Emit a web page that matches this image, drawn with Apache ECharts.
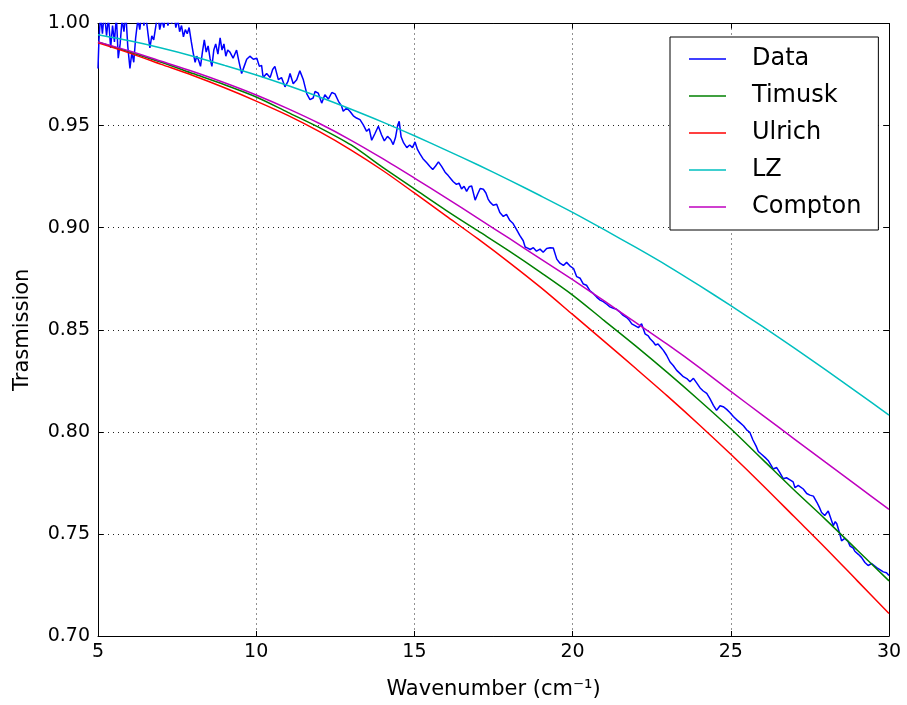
<!DOCTYPE html>
<html>
<head>
<meta charset="utf-8">
<script src="https://cdn.jsdelivr.net/npm/echarts@6/dist/echarts.min.js"></script>
<style>
  html, body { margin: 0; padding: 0; background: #fff; }
  #chart { width: 907px; height: 705px; }
</style>
</head>
<body>
<div id="chart"></div>
<script>
// Measured transmission spectrum (wavenumber in cm^-1, transmission)
var dataWavenumber = [
  5.00, 5.03, 5.08, 5.14, 5.20, 5.27, 5.33, 5.40, 5.46, 5.52, 5.58, 5.64, 5.70, 5.76, 5.82, 5.88, 5.94,
  6.01, 6.07, 6.13, 6.19, 6.26, 6.32, 6.39, 6.45, 6.51, 6.58, 6.64, 6.70, 6.76, 6.83, 6.89, 6.95,
  7.02, 7.08, 7.14, 7.21, 7.27, 7.33, 7.40, 7.46, 7.52, 7.58, 7.64, 7.70, 7.76, 7.82, 7.88, 7.95,
  8.01, 8.07, 8.12, 8.18, 8.24, 8.30, 8.36, 8.42, 8.48, 8.54, 8.60, 8.66, 8.72, 8.79, 8.86, 8.92, 8.98,
  9.04, 9.10, 9.17, 9.27, 9.38, 9.46, 9.54, 9.62, 9.70, 9.80, 9.91,
  10.02, 10.10, 10.17, 10.22, 10.33, 10.44, 10.52, 10.59, 10.70, 10.80, 10.91,
  11.00, 11.07, 11.17, 11.28, 11.38, 11.49, 11.60, 11.70, 11.80, 11.86, 11.96,
  12.07, 12.17, 12.28, 12.39, 12.49, 12.60, 12.70, 12.75, 12.86, 12.96,
  13.07, 13.17, 13.28, 13.38, 13.49, 13.57, 13.65, 13.75, 13.86, 13.96,
  14.05, 14.15, 14.25, 14.33, 14.40, 14.47, 14.52, 14.58, 14.66, 14.76, 14.85, 14.94,
  15.02, 15.10, 15.18, 15.27, 15.39, 15.49, 15.58, 15.67, 15.76, 15.86, 15.97,
  16.07, 16.15, 16.23, 16.33, 16.41, 16.49, 16.57, 16.65, 16.73, 16.81, 16.92,
  17.00, 17.08, 17.18, 17.26, 17.33, 17.39, 17.49, 17.60, 17.70, 17.81, 17.91,
  18.02, 18.12, 18.23, 18.33, 18.44, 18.50, 18.58, 18.66, 18.76, 18.86, 18.97,
  19.07, 19.18, 19.29, 19.39, 19.50, 19.60, 19.71, 19.81, 19.92,
  20.03, 20.13, 20.24, 20.34, 20.44, 20.55, 20.65, 20.76, 20.87, 20.97,
  21.08, 21.18, 21.29, 21.39, 21.50, 21.60, 21.71, 21.80, 21.87, 21.97,
  22.08, 22.18, 22.29, 22.39, 22.45, 22.55, 22.62, 22.70, 22.80, 22.87, 22.97,
  23.08, 23.18, 23.29, 23.40, 23.50, 23.61, 23.71, 23.82, 23.92,
  24.03, 24.13, 24.24, 24.34, 24.45, 24.55, 24.66, 24.76, 24.87, 24.97,
  25.08, 25.18, 25.29, 25.40, 25.50, 25.60, 25.70, 25.80, 25.87, 25.97,
  26.08, 26.18, 26.28, 26.34, 26.45, 26.55, 26.66, 26.76, 26.87, 26.97,
  27.03, 27.13, 27.19, 27.29, 27.40, 27.50, 27.61, 27.72, 27.80, 27.87, 27.97,
  28.08, 28.14, 28.24, 28.30, 28.35, 28.45, 28.50, 28.60, 28.70, 28.77, 28.87, 28.92,
  29.03, 29.13, 29.24, 29.34, 29.45, 29.50, 29.61, 29.71, 29.82, 29.92, 30.00
];
var dataTransmission = [
  0.978, 0.992, 1.004, 0.995, 1.006, 0.994, 1.003, 0.988, 0.999, 0.991, 1.004, 0.983, 0.990, 1.002, 0.996, 1.005, 0.989,
  0.978, 0.986, 0.981, 0.993, 1.002, 0.997, 1.006, 0.999, 1.004, 0.995, 0.988, 0.994, 0.992, 0.999, 1.005, 0.997,
  1.002, 0.998, 1.004, 0.999, 1.003, 1.000, 1.005, 0.998, 1.002, 0.996, 0.999, 0.9935, 0.997, 0.995, 0.998, 0.991,
  0.9855, 0.981, 0.984, 0.982, 0.979, 0.986, 0.992, 0.986, 0.989, 0.983, 0.979, 0.987, 0.990, 0.985, 0.993, 0.987, 0.990,
  0.984, 0.987, 0.986, 0.983, 0.987, 0.981, 0.9755, 0.979, 0.9825, 0.984, 0.9825,
  0.983, 0.979, 0.9795, 0.9735, 0.9755, 0.9735, 0.9775, 0.979, 0.9725, 0.9735, 0.969,
  0.9715, 0.9755, 0.9705, 0.9725, 0.9768, 0.9724, 0.9655, 0.9627, 0.9635, 0.9667, 0.9659,
  0.961, 0.9651, 0.9630, 0.9662, 0.9655, 0.9619, 0.9595, 0.9570, 0.9586, 0.957,
  0.9548, 0.9537, 0.9529, 0.9505, 0.9472, 0.9485, 0.9428, 0.9460, 0.9497, 0.9455,
  0.9425, 0.9447, 0.9432, 0.9407, 0.9440, 0.9500, 0.9521, 0.9445, 0.9415, 0.9392, 0.9405, 0.9392,
  0.9420, 0.9382, 0.9360, 0.9338, 0.9318, 0.9300, 0.9285, 0.9302, 0.9322, 0.9300, 0.9272,
  0.9255, 0.9240, 0.9225, 0.9212, 0.9218, 0.9190, 0.9203, 0.9178, 0.9200, 0.9204, 0.9135,
  0.9165, 0.9192, 0.9188, 0.9170, 0.9140, 0.9125, 0.9110, 0.9115, 0.9074, 0.9055, 0.9065,
  0.9035, 0.9020, 0.8990, 0.8962, 0.8936, 0.8905, 0.8900, 0.8893, 0.8902, 0.8885, 0.8895,
  0.8880, 0.8898, 0.8902, 0.8900, 0.8846, 0.8826, 0.8815, 0.8830, 0.8812,
  0.8800, 0.8760, 0.8752, 0.8724, 0.8718, 0.8690, 0.8678, 0.8660, 0.8645, 0.8638,
  0.8625, 0.8612, 0.8605, 0.8600, 0.8586, 0.8570, 0.8560, 0.8545, 0.8529, 0.8520,
  0.8510, 0.8529, 0.8480, 0.8470, 0.8456, 0.8440, 0.8425, 0.8430, 0.8412, 0.8399, 0.8375,
  0.8342, 0.8325, 0.8301, 0.8285, 0.8270, 0.8261, 0.8245, 0.8262, 0.8240,
  0.8215, 0.8200, 0.8188, 0.8163, 0.8130, 0.8105, 0.8128, 0.8123, 0.8110, 0.8095,
  0.8075, 0.8060, 0.8045, 0.8030, 0.8010, 0.7998, 0.7960, 0.7930, 0.7904, 0.7890,
  0.7875, 0.7860, 0.7835, 0.7818, 0.7825, 0.7800, 0.7770, 0.7775, 0.7765, 0.7755,
  0.7726, 0.7738, 0.7742, 0.7720, 0.7698, 0.7690, 0.7685, 0.7655, 0.7630, 0.7605, 0.7590,
  0.7612, 0.7605, 0.7540, 0.7560, 0.7550, 0.7497, 0.7466, 0.7478, 0.7465, 0.7440, 0.7430, 0.7415,
  0.7400, 0.7385, 0.7360, 0.7345, 0.7355, 0.7362, 0.7335, 0.7325, 0.7314, 0.7310, 0.7296
];

// Model curves, sampled at whole wavenumbers
var modelWavenumber = [5, 6, 7, 8, 9, 10, 11, 12, 13, 14, 15, 16, 17, 18, 19, 20, 21, 22, 23, 24, 25, 26, 27, 28, 29, 30];
var timusk = [0.991, 0.986, 0.981, 0.9755, 0.970, 0.964, 0.9565, 0.949, 0.9405, 0.9295, 0.919, 0.9085, 0.8985,
  0.8885, 0.878, 0.867, 0.8545, 0.842, 0.829, 0.8155, 0.8015, 0.7865, 0.7715, 0.757, 0.742, 0.727];
var ulrich = [0.9905, 0.9855, 0.980, 0.9745, 0.9685, 0.962, 0.955, 0.947, 0.938, 0.928, 0.917, 0.9058, 0.8946,
  0.8829, 0.8706, 0.8575, 0.8443, 0.831, 0.8175, 0.8035, 0.789, 0.774, 0.7585, 0.743, 0.727, 0.711];
var lz = [0.9945, 0.9915, 0.988, 0.984, 0.9795, 0.9748, 0.9696, 0.964, 0.958, 0.9517, 0.945, 0.938, 0.9308,
  0.9233, 0.9155, 0.9075, 0.899, 0.8903, 0.8813, 0.8717, 0.8618, 0.8516, 0.8411, 0.8303, 0.8193, 0.8082];
var compton = [0.991, 0.9865, 0.9815, 0.9765, 0.971, 0.965, 0.9583, 0.951, 0.9428, 0.9338, 0.9243, 0.9146, 0.9047,
  0.8947, 0.8846, 0.8745, 0.8641, 0.8535, 0.8428, 0.8316, 0.8198, 0.8082, 0.7966, 0.785, 0.7735, 0.762];

var xTicks = [5, 10, 15, 20, 25, 30];
var yTicks = [0.70, 0.75, 0.80, 0.85, 0.90, 0.95, 1.00];

function pairs(xs, ys) {
  return xs.map(function (x, i) { return [x, ys[i]]; });
}

var FONT = 'DejaVu Sans';
var chart = echarts.init(document.getElementById('chart'), null, { renderer: 'canvas' });

var gridLine = { show: true, lineStyle: { color: '#222', width: 1, type: [1, 4] } };
var frameLine = { show: true, onZero: false, lineStyle: { color: '#000', width: 1 } };
var inTick = { show: true, inside: true, length: 5, lineStyle: { color: '#000', width: 1 } };

function lineSeries(name, color, data, smooth) {
  return {
    name: name, type: 'line', data: data, xAxisIndex: 0, yAxisIndex: 0,
    symbol: 'none', showSymbol: false, smooth: smooth,
    clip: true, animation: false,
    lineStyle: { color: color, width: 1.5 }, itemStyle: { color: color }
  };
}

chart.setOption({
  backgroundColor: '#fff',
  animation: false,
  textStyle: { fontFamily: FONT },
  grid: { left: 98, right: 18, top: 23.5, bottom: 67, containLabel: false },
  legend: {
    orient: 'vertical', left: 670, top: 37,
    data: ['Data', 'Timusk', 'Ulrich', 'LZ', 'Compton'],
    icon: 'rect', itemWidth: 37, itemHeight: 1.5, itemGap: 9,
    backgroundColor: '#fff', borderColor: '#000', borderWidth: 1, borderRadius: 0,
    padding: [8, 17, 9, 19],
    textStyle: { fontFamily: FONT, fontSize: 24, color: '#000', lineHeight: 28, padding: [0, 0, 0, 21] }
  },
  xAxis: [{
    type: 'value', position: 'bottom', min: 5, max: 30, interval: 5,
    name: 'Wavenumber (cm⁻¹)', nameLocation: 'middle', nameGap: 43,
    nameTextStyle: { fontFamily: FONT, fontSize: 21, color: '#000' },
    axisLine: frameLine, axisTick: inTick, splitLine: gridLine,
    axisLabel: { fontFamily: FONT, fontSize: 19, color: '#000', margin: 7,
      formatter: function (v) { return xTicks.indexOf(v) >= 0 ? String(v) : ''; } }
  }, {
    type: 'value', position: 'top', min: 5, max: 30, interval: 5,
    axisLine: frameLine, axisTick: inTick, splitLine: { show: false }, axisLabel: { show: false }
  }],
  yAxis: [{
    type: 'value', position: 'left', min: 0.70, max: 1.00, interval: 0.05,
    name: 'Trasmission', nameLocation: 'middle', nameGap: 65, nameRotate: 90,
    nameTextStyle: { fontFamily: FONT, fontSize: 21, color: '#000' },
    axisLine: frameLine, axisTick: inTick, splitLine: gridLine,
    axisLabel: { fontFamily: FONT, fontSize: 19, color: '#000', margin: 8,
      formatter: function (v) {
        var t = yTicks.filter(function (k) { return Math.abs(k - v) < 1e-6; });
        return t.length ? t[0].toFixed(2) : '';
      } }
  }, {
    type: 'value', position: 'right', min: 0.70, max: 1.00, interval: 0.05,
    axisLine: frameLine, axisTick: inTick, splitLine: { show: false }, axisLabel: { show: false }
  }],
  series: [
    lineSeries('Data', '#0000ff', pairs(dataWavenumber, dataTransmission), false),
    lineSeries('Timusk', '#008000', pairs(modelWavenumber, timusk), 0.3),
    lineSeries('Ulrich', '#ff0000', pairs(modelWavenumber, ulrich), 0.3),
    lineSeries('LZ', '#00bfbf', pairs(modelWavenumber, lz), 0.3),
    lineSeries('Compton', '#bf00bf', pairs(modelWavenumber, compton), 0.3)
  ]
});
</script>
</body>
</html>
